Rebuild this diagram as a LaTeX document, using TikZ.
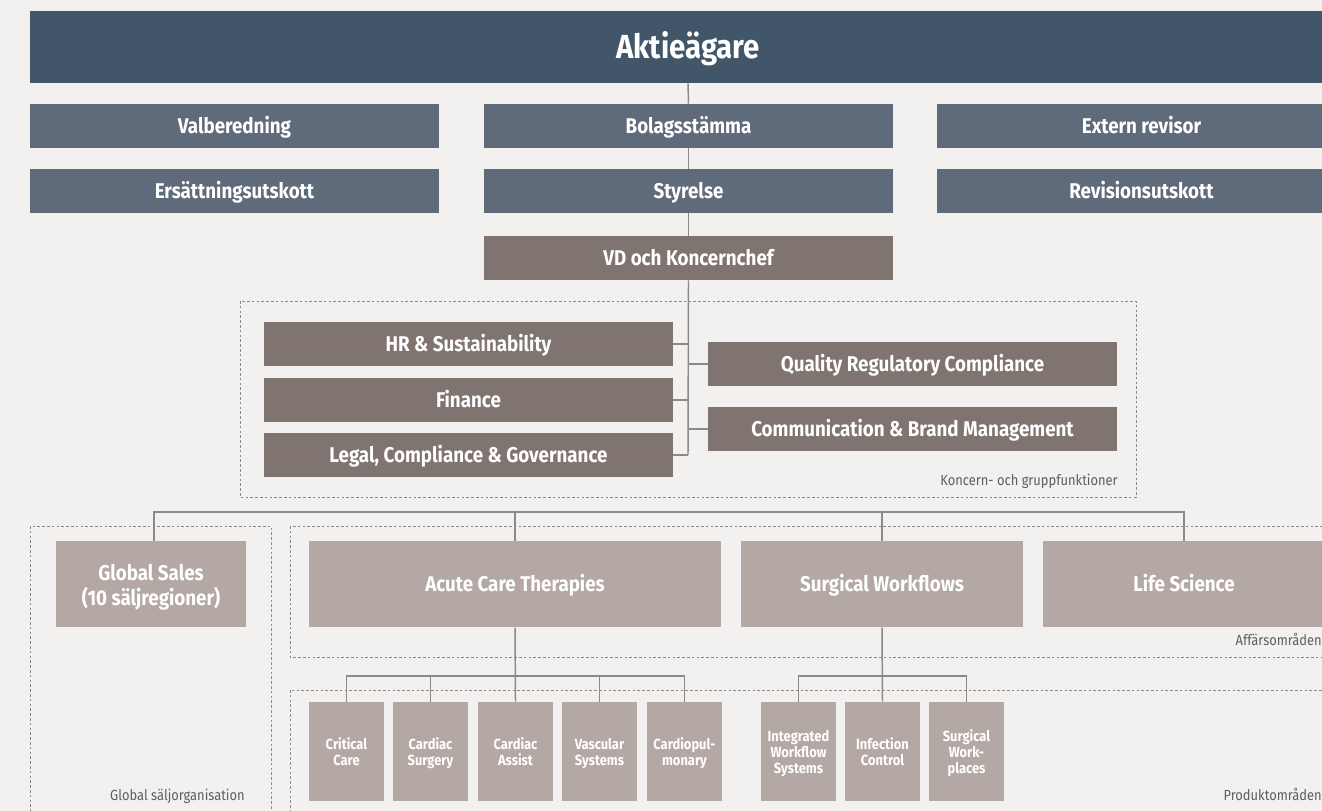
\documentclass[tikz,border=0pt]{standalone}
\usepackage{fontspec}
\setmainfont{Fira Sans}[FakeStretch=0.88]
\definecolor{bgc}{HTML}{F2F1EF}
\definecolor{topc}{HTML}{415668}
\definecolor{slate}{HTML}{5F6B7A}
\definecolor{brownc}{HTML}{807470}
\definecolor{lightc}{HTML}{B3A8A4}
\definecolor{linec}{HTML}{8A8A8A}
\definecolor{dashc}{HTML}{8A8A8A}
\definecolor{labc}{HTML}{5E5E5E}
\tikzset{
  sz/.style 2 args={minimum width={#1*0.75pt},minimum height={#2*0.75pt}},
  bx/.style={inner sep=0pt,text=white,font=\bfseries\fontsize{16}{19}\selectfont,align=center},
  one/.style={text height=11.5pt,text depth=0.5pt},
  topbox/.style={bx,fill=topc,font=\bfseries\fontsize{25}{28}\selectfont,text height=18pt,text depth=0.7pt},
  slatebox/.style={bx,one,fill=slate},
  brownbox/.style={bx,one,fill=brownc},
  lightbox/.style={bx,fill=lightc},
  smallbox/.style={bx,fill=lightc,font=\bfseries\fontsize{11}{12}\selectfont,sz={75}{99},text depth=0pt},
  conn/.style={draw=linec,line width=1.1pt},
  grp/.style={draw=dashc,line width=0.7pt,dash pattern=on 2pt off 1.6pt},
  grplab/.style={text=labc,font=\fontsize{11}{13}\selectfont,inner sep=0pt}
}
\begin{document}
\begin{tikzpicture}[x=0.75pt,y=-0.75pt]
\useasboundingbox (0,0) rectangle (1322,811);
\fill[bgc] (0,0) rectangle (1322,811);
% group frames
\draw[grp] (240,301) rectangle (1136,497);
\draw[grp] (30,526) rectangle (271,830);
\draw[grp] (290,526) rectangle (1345,657);
\draw[grp] (290,690) rectangle (1345,830);
\node[grplab,anchor=base east] (lk) at (1118,485) {Koncern- och gruppfunktioner};
\node[grplab,anchor=base east] (lg) at (245,800) {Global säljorganisation};
\node[grplab,anchor=base east] (la) at (1322,645) {Affärsområden};
\node[grplab,anchor=base east] (lp) at (1322,800) {Produktområden};
% top
\node[topbox,sz={1316}{72}] (akt) at (688,47) {Aktieägare};
\node[slatebox,sz={409}{44}] (val) at (234.5,126) {Valberedning};
\node[slatebox,sz={409}{44}] (bol) at (688.5,126) {Bolagsstämma};
\node[slatebox,sz={409}{44}] (ext) at (1141.5,126) {Extern revisor};
\node[slatebox,sz={409}{44}] (ers) at (234.5,191) {Ersättningsutskott};
\node[slatebox,sz={409}{44}] (sty) at (688.5,191) {Styrelse};
\node[slatebox,sz={409}{44}] (rev) at (1141.5,191) {Revisionsutskott};
\node[brownbox,sz={409}{44}] (vd) at (688.5,258) {VD och Koncernchef};
% functions
\node[brownbox,sz={409}{44}] (hr) at (468.5,344) {HR \& Sustainability};
\node[brownbox,sz={409}{44}] (fin) at (468.5,400) {Finance};
\node[brownbox,sz={409}{44}] (leg) at (468.5,455) {Legal, Compliance \& Governance};
\node[brownbox,sz={409}{44}] (qrc) at (912.5,364) {Quality Regulatory Compliance};
\node[brownbox,sz={409}{44}] (com) at (912.5,429) {Communication \& Brand Management};
% business areas
\node[lightbox,sz={190}{86}] (gs) at (151,584) {};
\node[bx] (gst) at (151,587) {Global Sales\\(10 säljregioner)};
\node[lightbox,one,sz={412}{86}] (act) at (515,584) {Acute Care Therapies};
\node[lightbox,one,sz={282}{86}] (sw) at (882,584) {Surgical Workflows};
\node[lightbox,one,sz={282}{86}] (ls) at (1184,584) {Life Science};
% product areas
\node[smallbox] (cc) at (346.5,751.5) {Critical\\Care};
\node[smallbox] (cs) at (430.5,751.5) {Cardiac\\Surgery};
\node[smallbox] (ca) at (515.5,751.5) {Cardiac\\Assist};
\node[smallbox] (vs) at (599.5,751.5) {Vascular\\Systems};
\node[smallbox] (cp) at (684.5,751.5) {Cardiopul-\\monary};
\node[smallbox] (iw) at (798.5,751.5) {Integrated\\Workflow\\Systems};
\node[smallbox] (ic) at (882.5,751.5) {Infection\\Control};
\node[smallbox] (sp) at (966.5,751.5) {Surgical\\Work-\\places};
% connectors top
\draw[conn] (akt.south) -- (bol.north);
\draw[conn] (bol.south) -- (sty.north);
\draw[conn] (sty.south) -- (vd.north);
\coordinate (tend) at (688,455);
\draw[conn] (vd.south) -- (tend);
\draw[conn] (hr.east) -- (hr.east -| tend);
\draw[conn] (fin.east) -- (fin.east -| tend);
\draw[conn] (leg.east) -- (tend);
\draw[conn] (qrc.west -| tend) -- (qrc.west);
\draw[conn] (com.west -| tend) -- (com.west);
% bus to business areas
\coordinate (busl) at (154,512);
\coordinate (busr) at (1184,512);
\draw[conn] (gs.north -| busl) -- (busl) -- (busr) -- (ls.north);
\draw[conn] (act.north |- busl) -- (act.north);
\draw[conn] (sw.north |- busl) -- (sw.north);
% acute care products
\coordinate (ab) at (515,676);
\draw[conn] (act.south) -- (ca.north);
\draw[conn] (cc.north) -- (cc.north |- ab) -- (cp.north |- ab) -- (cp.north);
\draw[conn] (cs.north |- ab) -- (cs.north);
\draw[conn] (vs.north |- ab) -- (vs.north);
% surgical products
\draw[conn] (sw.south) -- (ic.north);
\draw[conn] (iw.north) -- (iw.north |- ab) -- (sp.north |- ab) -- (sp.north);
\end{tikzpicture}
\end{document}
